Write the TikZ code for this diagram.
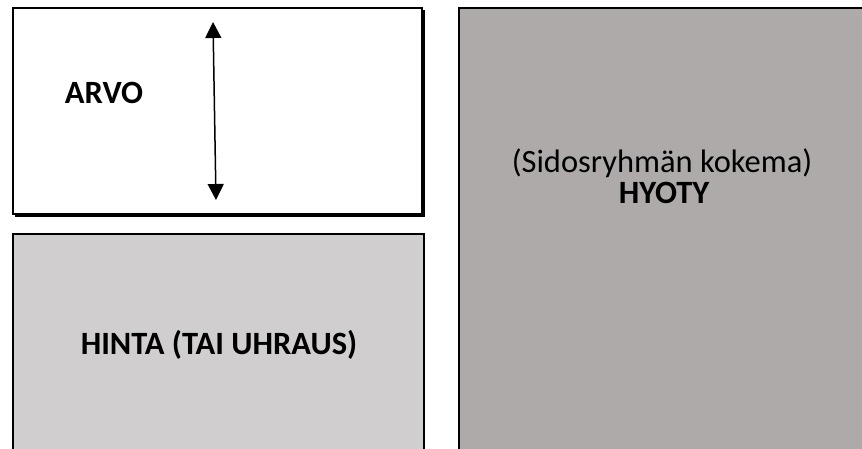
\documentclass[tikz,border=0pt]{standalone}
\usepackage{fontspec}
\setmainfont{Carlito}
\usetikzlibrary{arrows.meta}
\definecolor{costgrey}{HTML}{D0CECE}
\definecolor{benefitgrey}{HTML}{AEAAAA}
\tikzset{
  panel/.style={draw=black, line width=2.2pt},
  shadowedge/.style={fill=black},
  bigbold/.style={font=\fontsize{32.5}{34}\selectfont\bfseries, align=center},
  bigtext/.style={font=\fontsize{32.5}{34}\selectfont, align=center},
  valuearrow/.style={line width=1.5pt, {Triangle[width=16pt,length=16pt]}-{Triangle[width=16pt,length=16pt]}}
}
\begin{document}
\begin{tikzpicture}[x=1pt, y=-1pt]
  \useasboundingbox (0,0) rectangle (862,448);
  \clip (0,0) rectangle (862,448);

  % value panel with drop shadow on right and bottom
  \fill[shadowedge] (15,10) rectangle (425,217);
  \draw[panel, fill=white, line width=1.3pt] (13,8) rectangle (422,214);

  % price / sacrifice panel
  \draw[panel, fill=costgrey] (13,234) rectangle (424,470);

  % benefit panel
  \draw[panel, fill=benefitgrey] (459,8) rectangle (880,470);

  % labels
  \node[bigbold] (arvo) at (104,93) {ARVO};
  \node[bigbold] (hinta) at (219,345) {HINTA (TAI UHRAUS)};
  \node[bigtext, anchor=base] (sidos) at (662,172) {(Sidosryhmän kokema)};
  \node[bigbold, anchor=base] (hyoty) at (664,203) {HYOTY};

  % double-headed arrow in the value panel
  \coordinate (atop) at (213,22);
  \coordinate (abot) at (216,200);
  \draw[valuearrow] (atop) -- (abot);
\end{tikzpicture}
\end{document}
